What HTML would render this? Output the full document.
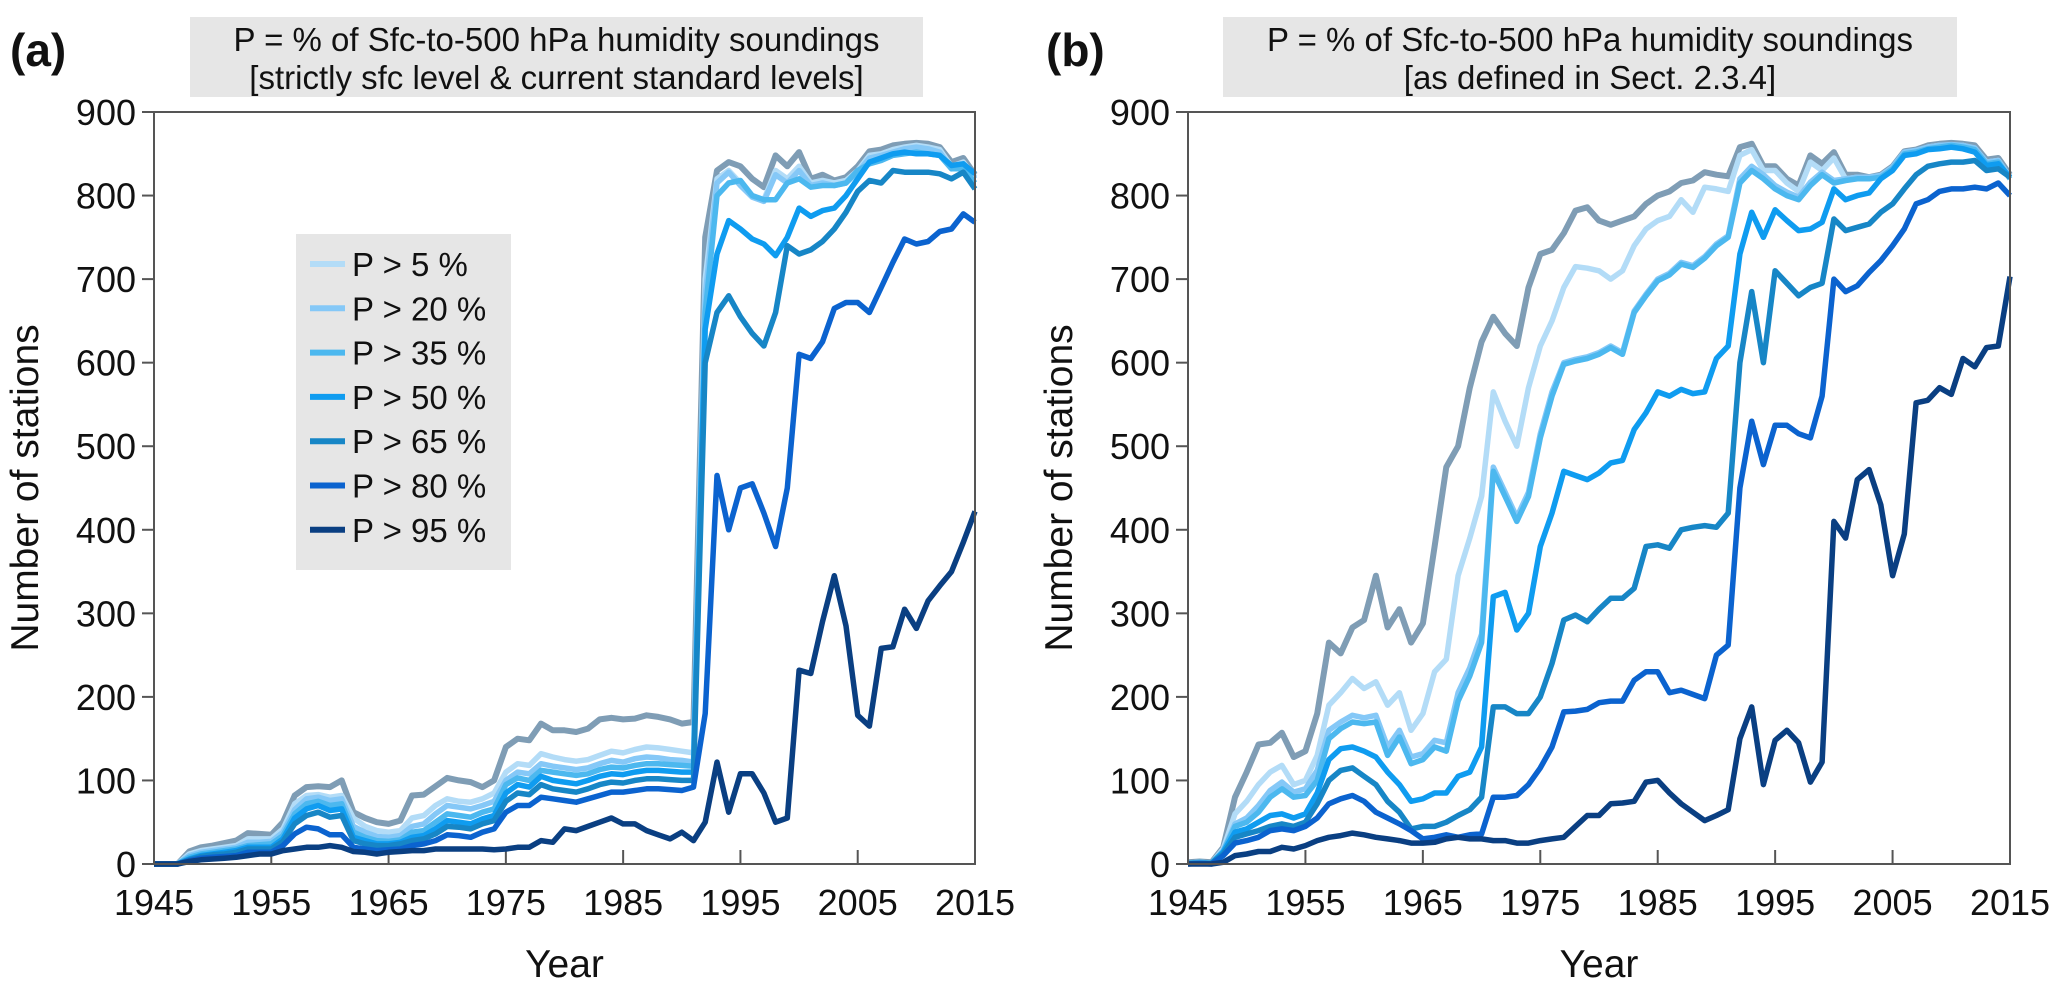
<!DOCTYPE html>
<html><head><meta charset="utf-8"><style>
html,body{margin:0;padding:0;background:#fff;}
svg{display:block;font-family:"Liberation Sans",sans-serif;}
</style></head><body>
<svg id="fig" width="2067" height="996" viewBox="0 0 2067 996"></svg>
<script>
const years = []; for (let y = 1945; y <= 2015; y++) years.push(y);
const seriesLabels = ["All", "P > 5 %", "P > 20 %", "P > 35 %", "P > 50 %", "P > 65 %", "P > 80 %", "P > 95 %"];
const xTickLabels = [1945, 1955, 1965, 1975, 1985, 1995, 2005, 2015];
const yTickLabels = [0, 100, 200, 300, 400, 500, 600, 700, 800, 900];

const aAll = [0,0,0,15,20,22,25,28,37,36, 35,50,82,92,93,92,100,62,55,50, 48,52,82,83,93,103,100,98,92,100, 140,150,148,168,160,160,158,162,173,175, 173,174,178,176,173,168,170,750,830,840, 835,820,810,848,835,852,820,825,818,822, 835,853,855,860,862,863,862,858,840,845,825];
const aP5 = [0,0,0,12,16,18,20,22,30,30, 30,42,72,82,83,80,82,55,45,40, 38,40,55,58,70,78,75,74,78,85, 110,120,118,132,128,125,123,125,130,135, 133,137,140,139,137,135,133,700,820,830, 815,800,795,830,820,835,815,818,815,818, 830,848,850,855,858,860,858,855,835,840,822];
const aP20 = [0,0,0,10,14,16,18,20,26,26, 27,38,65,78,80,76,78,45,38,33, 32,34,45,48,60,70,68,66,70,75, 100,110,108,120,117,115,113,115,120,124, 122,126,128,127,125,124,122,680,815,828, 812,798,793,825,815,830,812,815,812,815, 828,845,848,852,856,858,856,852,832,838,820];
const aP35 = [0,0,0,8,12,14,16,18,22,23, 24,34,60,72,75,70,72,38,32,28, 27,29,38,40,50,60,58,56,62,66, 95,103,100,112,110,108,106,108,113,116, 115,118,120,120,119,118,117,660,800,815, 818,800,795,795,815,820,810,812,812,815, 830,838,842,848,850,852,850,848,832,832,815];
const aP50 = [0,0,0,6,10,12,14,16,20,20, 20,30,55,66,70,64,66,32,28,24, 24,26,32,34,42,52,50,48,54,58, 85,95,92,105,100,98,96,100,105,108, 107,110,112,112,111,110,110,640,730,770, 760,748,742,728,750,785,775,782,785,800, 820,840,845,850,852,850,850,848,836,838,826];
const aP65 = [0,0,0,5,9,11,12,14,18,18, 18,27,48,58,62,56,58,28,24,22, 22,24,28,30,36,45,44,42,48,52, 75,85,83,95,90,88,86,90,95,98, 97,100,102,102,101,100,100,600,660,680, 655,635,620,660,740,730,735,745,760,780, 805,818,815,830,828,828,828,826,820,828,808];
const aP80 = [0,0,0,4,7,8,9,10,14,14, 14,22,36,44,42,35,35,20,18,16, 17,18,22,24,28,35,34,32,38,42, 62,70,70,80,78,76,74,78,82,86, 86,88,90,90,89,88,92,180,465,400, 450,455,420,380,450,610,605,625,665,672, 672,660,690,720,748,742,745,757,760,778,768];
const aP95 = [0,0,0,3,5,6,7,8,10,12, 12,16,18,20,20,22,20,15,14,12, 14,15,16,16,18,18,18,18,18,17, 18,20,20,28,26,42,40,45,50,55, 48,48,40,35,30,38,28,50,122,62, 108,108,85,50,55,232,228,290,345,285, 178,165,258,260,305,282,315,333,350,385,422];

const bAll = [2,3,2,20,80,110,143,145,157,128, 135,180,265,252,283,292,345,283,305,265, 288,380,475,500,570,625,655,635,620,690, 730,735,755,782,786,770,765,770,775,790, 800,805,815,818,828,825,823,858,862,835, 835,820,812,848,838,852,825,825,822,825, 835,853,855,860,862,863,862,860,843,845,825];
const bP5 = [1,2,1,18,60,75,95,110,118,95, 100,130,190,205,222,210,218,190,205,160, 180,230,245,345,390,440,565,530,500,570, 620,650,690,715,713,710,700,710,740,760, 770,775,795,780,810,808,805,848,855,830, 830,815,805,840,830,845,820,822,820,822, 832,850,852,858,860,860,860,856,840,842,822];
const bP20 = [1,2,1,16,48,55,70,88,98,86, 90,112,160,170,178,175,178,140,160,128, 132,148,145,205,235,275,475,445,415,445, 515,565,600,604,607,612,620,612,662,682, 700,707,720,716,727,742,752,820,835,825, 812,804,798,816,828,818,820,822,822,824, 834,852,854,858,860,861,860,857,840,842,822];
const bP35 = [1,2,1,15,45,50,62,80,90,80, 82,100,150,162,170,168,170,130,152,120, 125,140,135,195,225,265,470,440,410,440, 510,560,598,602,605,610,618,610,660,680, 698,705,718,714,725,740,750,815,830,820, 808,800,795,812,825,815,818,820,820,822, 832,850,852,856,858,860,858,855,838,840,820];
const bP50 = [1,1,1,14,38,42,50,58,60,55, 60,85,125,138,140,135,128,110,95,75, 78,85,85,105,110,140,320,325,280,300, 380,420,470,465,460,468,480,483,520,540, 565,560,568,563,565,605,620,730,780,750, 783,770,758,760,768,808,795,800,803,820, 830,848,850,855,856,858,856,852,836,838,822];
const bP65 = [1,1,1,12,32,36,40,45,48,45, 50,72,100,112,115,105,95,75,62,42, 45,45,50,58,65,80,188,188,180,180, 200,240,292,298,290,305,318,318,330,380, 382,378,400,403,405,403,420,600,685,600, 710,695,680,690,695,772,758,762,766,780, 790,808,825,835,838,840,840,842,830,832,822];
const bP80 = [0,1,0,10,25,28,32,40,42,40, 45,55,72,78,82,75,62,55,48,40, 30,32,35,32,35,36,80,80,82,95, 115,140,182,183,185,193,195,195,220,230, 230,205,208,203,198,250,262,450,530,478, 525,525,515,510,560,700,685,692,708,722, 740,760,790,795,805,808,808,810,808,815,800];
const bP95 = [0,0,0,2,10,12,15,15,20,18, 22,28,32,34,37,35,32,30,28,25, 25,26,30,32,30,30,28,28,25,25, 28,30,32,45,58,58,72,73,75,98, 100,85,72,62,52,58,65,150,188,95, 148,160,145,98,122,410,390,460,472,430, 345,395,552,555,570,562,605,595,618,620,703];

const colors = ["#7f9db5","#b3dcf7","#85c8f7","#4cb8ef","#0f9cf0","#1786c6","#0b63cf","#0a3f82"];
const NS = "http://www.w3.org/2000/svg";
const svg = document.getElementById("fig");
function mk(tag, attrs, parent) {
  const e = document.createElementNS(NS, tag);
  for (const k in attrs) e.setAttribute(k, attrs[k]);
  (parent || svg).appendChild(e);
  return e;
}

function panel(id, x0, x1, seriesList, titleLines, boxX, boxW, letter, letterX, yTitleX, showLegend) {
  const y0 = 864, yTop = 112;
  const xs = yr => x0 + (yr - 1945) / 70 * (x1 - x0);
  const ys = v => y0 - v / 900 * (y0 - yTop);
  const g = mk("g", {});
  
  

  const lt = mk("text", {x: letterX, y: 66, "font-size": 46, "font-weight": "bold", fill: "#111"}, g);
  lt.textContent = letter;
  
  

  const tb = mk("rect", {x: boxX, y: 17, width: boxW, height: 80, fill: "#e6e6e6"}, g);
  
  
  titleLines.forEach((s, i) => {
    const t = mk("text", {x: boxX + boxW / 2, y: 51 + i * 38, "font-size": 33, "text-anchor": "middle", fill: "#111"}, g);
    t.textContent = s;
    
    
  });

  yTickLabels.forEach(v => {
    const tk = mk("line", {x1: x0 - 12, x2: x0, y1: ys(v), y2: ys(v), stroke: "#555", "stroke-width": 2}, g);
    
    
    const t = mk("text", {x: x0 - 18, y: ys(v) + 13, "font-size": 36, "text-anchor": "end", fill: "#111"}, g);
    t.textContent = v;
    
    
  });
  xTickLabels.forEach(v => {
    const tk = mk("line", {x1: xs(v), x2: xs(v), y1: y0, y2: y0 - 14, stroke: "#555", "stroke-width": 2}, g);
    
    
    const t = mk("text", {x: xs(v), y: y0 + 51, "font-size": 36, "text-anchor": "middle", fill: "#111"}, g);
    t.textContent = v;
    
    
  });

  const xt = mk("text", {x: (x0 + x1) / 2, y: 977, "font-size": 39, "text-anchor": "middle", fill: "#111"}, g);
  xt.textContent = "Year";
  
  
  const yt = mk("text", {x: 0, y: 0, "font-size": 39, "text-anchor": "middle", fill: "#111", transform: `translate(${yTitleX},${(y0 + yTop) / 2}) rotate(-90)`}, g);
  yt.textContent = "Number of stations";
  
  

  seriesList.forEach((arr, si) => {
    const d = arr.map((v, i) => (i ? "L" : "M") + xs(years[i]).toFixed(1) + "," + ys(v).toFixed(1)).join(" ");
    const p = mk("path", {d: d, fill: "none", stroke: colors[si], "stroke-width": si === 0 ? 6 : 5.5, "stroke-linejoin": "round"}, g);
    
    
  });

  const fr = mk("rect", {x: x0, y: yTop, width: x1 - x0, height: y0 - yTop, fill: "none", stroke: "#555", "stroke-width": 2}, g);
  
  

  if (showLegend) {
    const lg = mk("g", {}, g);
    
    
    mk("rect", {x: 296, y: 234, width: 215, height: 336, fill: "#e6e6e6"}, lg);
    for (let i = 1; i < 8; i++) {
      const yy = 264 + (i - 1) * 44.3;
      const l = mk("line", {x1: 310, x2: 345, y1: yy, y2: yy, stroke: colors[i], "stroke-width": 6}, lg);
      
      
      const t = mk("text", {x: 352, y: yy + 12, "font-size": 33, fill: "#111"}, lg);
      t.textContent = seriesLabels[i];
      
      
    }
  }
}

panel("a", 154, 975, [aAll, aP5, aP20, aP35, aP50, aP65, aP80, aP95],
  ["P = % of Sfc-to-500 hPa humidity soundings", "[strictly sfc level & current standard levels]"],
  190, 733, "(a)", 10, 38, true);
panel("b", 1188, 2010, [bAll, bP5, bP20, bP35, bP50, bP65, bP80, bP95],
  ["P = % of Sfc-to-500 hPa humidity soundings", "[as defined in Sect. 2.3.4]"],
  1223, 734, "(b)", 1046, 1072, false);
</script>
</body></html>
